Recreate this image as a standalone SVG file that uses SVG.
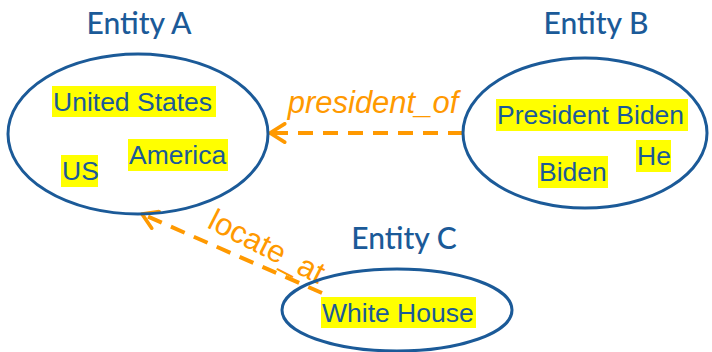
<svg xmlns="http://www.w3.org/2000/svg" width="712" height="352" viewBox="0 0 712 352">
<defs>
<style>
.ent{fill:none;stroke:#1b5a98;stroke-width:3}
.title{font-family:Lato,"Liberation Sans",sans-serif;font-size:30px;fill:#1b5a98;text-anchor:middle;font-weight:500}
.hl{fill:#ffff00}
.m{font-family:"Liberation Sans",Arial,sans-serif;font-size:26.5px;fill:#1b5a98}
.rel{fill:none;stroke:#ff9900;stroke-width:4;stroke-dasharray:15,10}
.rl{font-family:"Liberation Sans",Arial,sans-serif;font-size:31px;fill:#ff9900}
</style>
<marker id="ah" viewBox="0 0 12 12" refX="10" refY="6" markerWidth="5.5" markerHeight="5.5" markerUnits="strokeWidth" orient="auto">
<path d="M2,1 L10,6 L2,11" fill="none" stroke="#ff9900" stroke-width="2" stroke-linecap="round" stroke-linejoin="round"/>
</marker>
</defs>
<rect width="712" height="352" fill="#fff"/>
<g id="connectors">
<line class="rel" x1="463" y1="133" x2="270" y2="133" marker-end="url(#ah)"/>
<text class="rl" x="373" y="113" text-anchor="middle" font-style="italic">president_of</text>
<line class="rel" x1="322" y1="293" x2="142" y2="214" marker-end="url(#ah)"/>
<text class="rl" transform="translate(206,227) rotate(27)">locate_at</text>
</g>
<g id="entityA">
<text class="title" x="139" y="34">Entity A</text>
<ellipse class="ent" cx="138" cy="134" rx="130" ry="80"/>
<rect class="hl" x="52" y="86" width="164" height="31"/>
<text class="m" x="53" y="111">United States</text>
<rect class="hl" x="128" y="139" width="100" height="32"/>
<text class="m" x="129" y="164">America</text>
<rect class="hl" x="61" y="155" width="37" height="32"/>
<text class="m" x="62" y="180">US</text>
</g>
<g id="entityB">
<text class="title" x="596" y="34">Entity B</text>
<ellipse class="ent" cx="585" cy="133" rx="122" ry="75"/>
<rect class="hl" x="496" y="99" width="192" height="32"/>
<text class="m" x="497" y="124">President Biden</text>
<rect class="hl" x="636" y="140" width="35" height="32"/>
<text class="m" x="637" y="165">He</text>
<rect class="hl" x="538" y="156" width="70" height="32"/>
<text class="m" x="539" y="181">Biden</text>
</g>
<g id="entityC">
<text class="title" x="404" y="249">Entity C</text>
<ellipse class="ent" cx="397" cy="310" rx="115" ry="41"/>
<rect class="hl" x="321" y="297" width="155" height="31"/>
<text class="m" x="322" y="322">White House</text>
</g>
</svg>
